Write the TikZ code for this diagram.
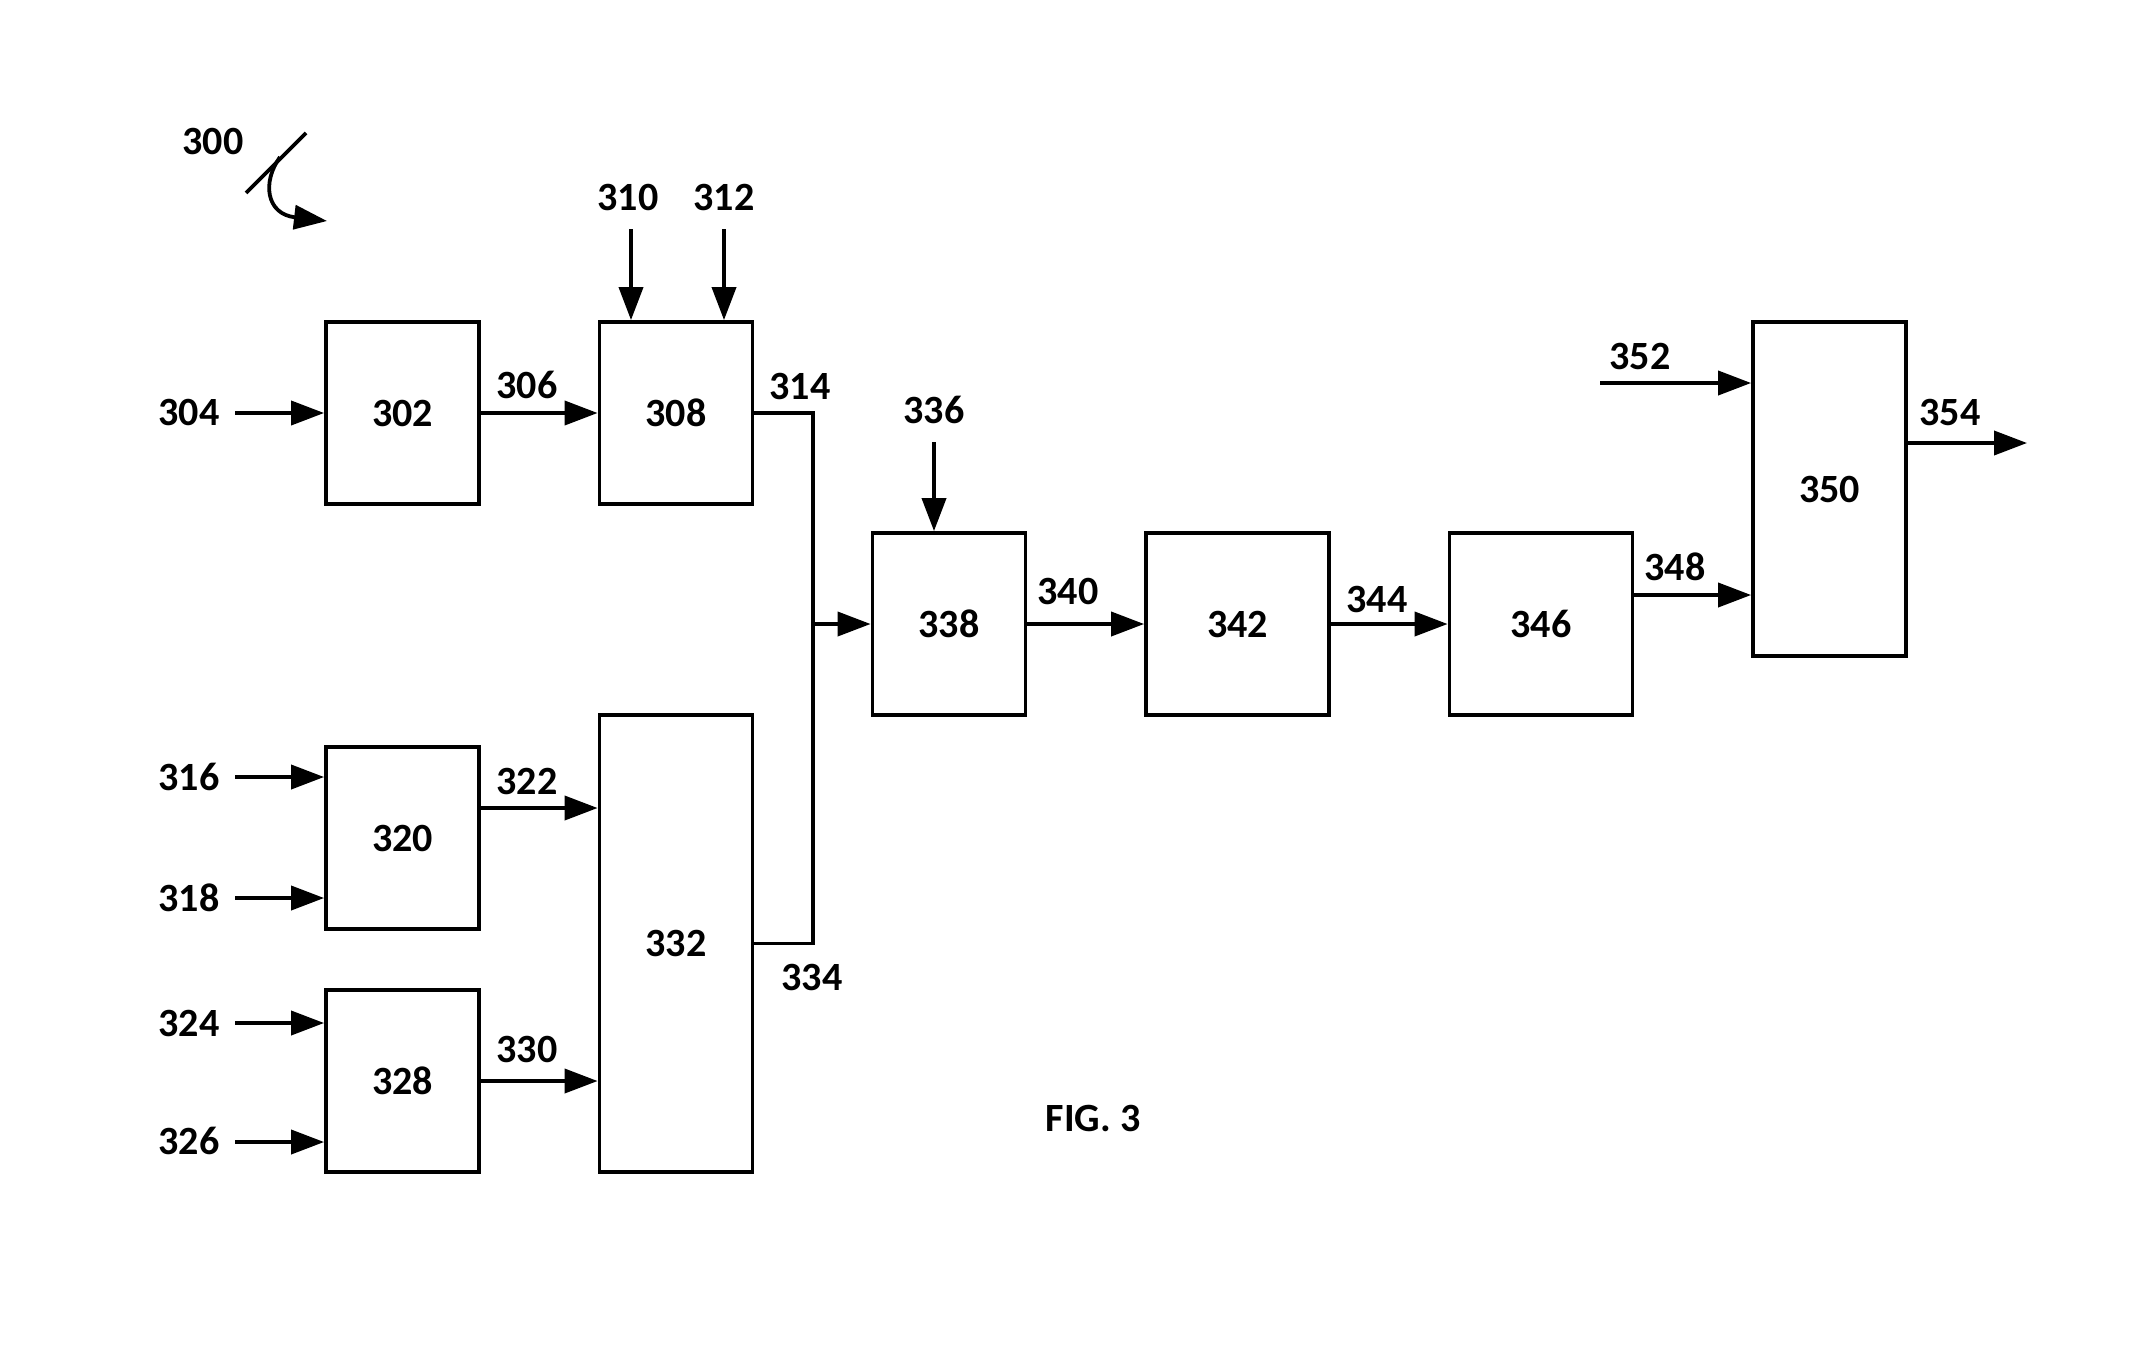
\documentclass[tikz,border=0pt]{standalone}
\usepackage{fontspec}
\setmainfont{Carlito}
\usetikzlibrary{arrows.meta,calc}
\tikzset{blk/.style={draw=black,line width=0.38mm,minimum width=15.3mm,minimum height=18.2mm,inner sep=0pt},
         wideblk/.style={blk,minimum width=18.3mm},
         flow/.style={line width=0.38mm,-{Triangle[length=3.3mm,width=2.4mm]}},
         wire/.style={line width=0.38mm},
         num/.style={inner sep=0pt}}

\begin{document}
\begin{tikzpicture}[x=0.1mm,y=-0.1mm,font=\fontsize{11.4}{13}\selectfont\bfseries]
  \useasboundingbox (0,0) rectangle (2144,1367);
  % blocks
  \node[blk] (b302) at (402.5,413) {302};
  \node[blk] (b308) at (676,413) {308};
  \node[blk] (b320) at (402.5,838) {320};
  \node[blk] (b328) at (402.5,1081) {328};
  \node[blk,minimum height=45.7mm] (b332) at (676,943.5) {332};
  \node[blk] (b338) at (949,624) {338};
  \node[wideblk] (b342) at (1237.5,624) {342};
  \node[wideblk] (b346) at (1541,624) {346};
  \node[blk,minimum height=33.4mm] (b350) at (1829.5,489) {350};
  % free ends
  \coordinate (c304) at (235,413);
  \coordinate (c310) at (631,229);
  \coordinate (c312) at (724,229);
  \coordinate (c316) at (235,777);
  \coordinate (c318) at (235,898);
  \coordinate (c324) at (235,1023);
  \coordinate (c326) at (235,1142);
  \coordinate (c336) at (934,442);
  \coordinate (c352) at (1600,383);
  \coordinate (c354) at (2027,443);
  \coordinate (bus) at (813,624);
  % connectors
  \draw[flow] (c304) -- (b302.west);
  \draw[flow] (b302.east) -- (b308.west);
  \draw[flow] (c310) -- (c310 |- b308.north);
  \draw[flow] (c312) -- (c312 |- b308.north);
  \draw[flow] (c316) -- (c316 -| b320.west);
  \draw[flow] (c318) -- (c318 -| b320.west);
  \draw[flow] (c324) -- (c324 -| b328.west);
  \draw[flow] (c326) -- (c326 -| b328.west);
  \draw[flow] ([yshift=3mm]b320.east) -- ([yshift=3mm]b320.east -| b332.west);
  \draw[flow] (b328.east) -- (b328.east -| b332.west);
  \draw[wire] (b308.east) -| (bus) |- (b332.east);
  \draw[flow] (bus) -- (b338.west);
  \draw[flow] (c336) -- (c336 |- b338.north);
  \draw[flow] (b338.east) -- (b342.west);
  \draw[flow] (b342.east) -- (b346.west);
  \draw[flow] ([yshift=2.9mm]b346.east) -- ([yshift=2.9mm]b346.east -| b350.west);
  \draw[flow] (c352) -- (c352 -| b350.west);
  \draw[flow] (c354 -| b350.east) -- (c354);
  % reference numerals
  \node[num] (n300) at (213,141) {300};
  \node[num] (n304) at (189,412) {304};
  \node[num] (n306) at (527,385) {306};
  \node[num] (n310) at (628,197) {310};
  \node[num] (n312) at (724,197) {312};
  \node[num] (n314) at (800,386) {314};
  \node[num] (n316) at (189,777) {316};
  \node[num] (n318) at (189,898) {318};
  \node[num] (n322) at (527,781) {322};
  \node[num] (n324) at (189,1023) {324};
  \node[num] (n326) at (189,1141) {326};
  \node[num] (n330) at (527,1049) {330};
  \node[num] (n334) at (812,977) {334};
  \node[num] (n336) at (934,410) {336};
  \node[num] (n340) at (1068,591) {340};
  \node[num] (n344) at (1377,599) {344};
  \node[num] (n348) at (1675,567) {348};
  \node[num] (n352) at (1640,356) {352};
  \node[num] (n354) at (1950,412) {354};
  \node[num] (fig) at (1093,1118) {FIG. 3};
  % lead line of 300
  \draw[wire] (246,193) -- (306,133);
  \draw[flow] (280,157) .. controls (262,182) and (266,214) .. (327,221);
\end{tikzpicture}
\end{document}
